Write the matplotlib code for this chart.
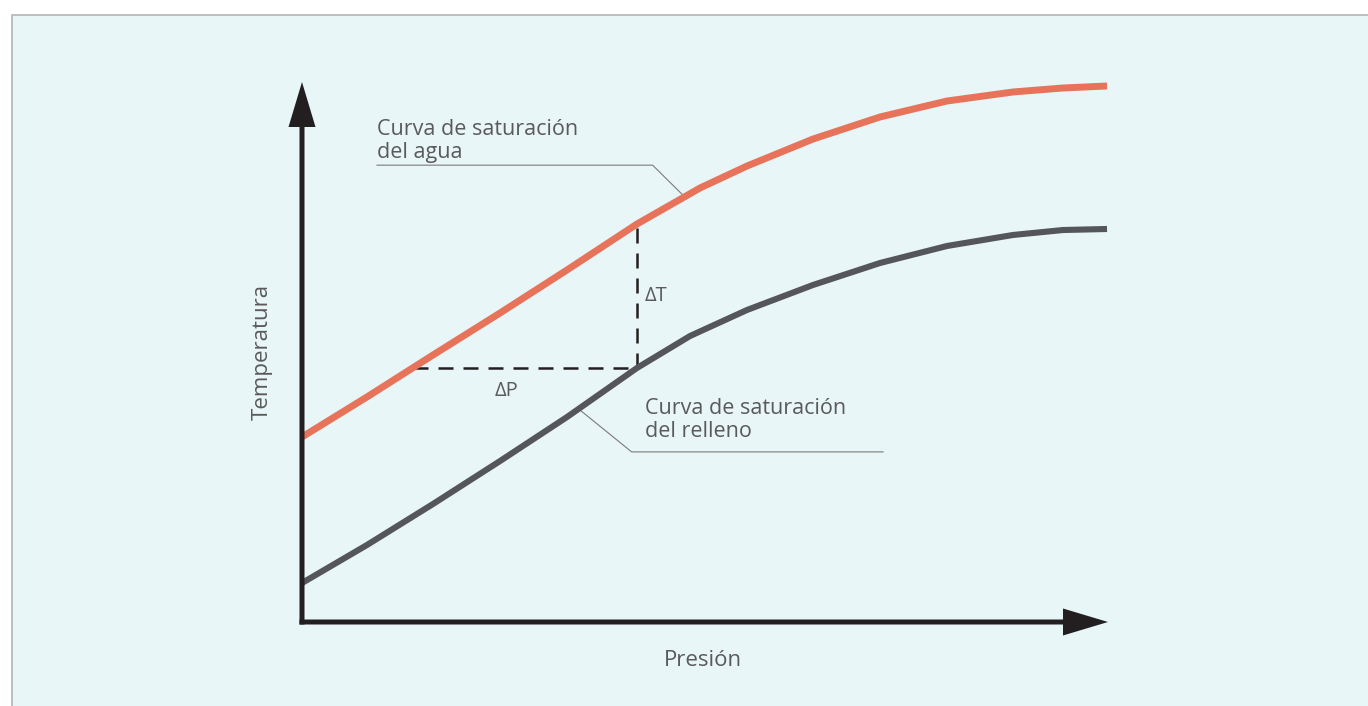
import numpy as np
import matplotlib.pyplot as plt
from matplotlib.patches import Rectangle

# Curvas (P y T en unidades relativas 0-100).
p_agua = [0, 8.06, 16.25, 24.57, 32.88, 41.56, 49.38, 55.21, 63.40, 71.71, 80.02, 88.21, 94.42, 99.88]
t_agua = [34.26, 41.67, 49.44, 57.22, 65.19, 73.70, 80.37, 84.44, 89.44, 93.52, 96.48, 98.15, 98.89, 99.26]

p_relleno = [0, 8.06, 16.25, 24.57, 32.88, 41.56, 48.14, 55.21, 63.40, 71.71, 80.02, 88.21, 94.42, 99.88]
t_relleno = [7.22, 14.26, 21.85, 29.81, 37.96, 47.04, 52.96, 57.78, 62.41, 66.48, 69.63, 71.67, 72.59, 72.78]

# Punto donde se marcan dT y dP.
p_delta = 41.56

label_agua = "Curva de saturación\ndel agua"
label_relleno = "Curva de saturación\ndel relleno"

# Líneas guía de las etiquetas.
guia_agua_p = [9.3, 43.5, 47.5]
guia_agua_t = [84.6, 84.6, 78.7]
guia_relleno_p = [34.2, 40.9, 72.1]
guia_relleno_t = [39.6, 31.5, 31.5]

W, H = 1368, 706
# escala de pixeles: origen en (302, 622), P=100 en x=1108, T=100 en y=82
x0, y0 = 302, 622
sx, sy = (1108 - x0) / 100.0, (y0 - 82) / 100.0

fig = plt.figure(figsize=(W / 100, H / 100), dpi=100)
fig.patch.set_facecolor('white')

ax = fig.add_axes([0, 0, 1, 1])
ax.set_xlim(-x0 / sx, (W - x0) / sx)
ax.set_ylim((y0 - H) / sy, y0 / sy)
ax.axis('off')

# fondo con borde
ax.add_patch(Rectangle((12 / W, -0.05), 1.1, (H - 15) / H + 0.05,
                       transform=ax.transAxes, facecolor='#e9f6f7',
                       edgecolor='#b4b4b4', linewidth=1.2, zorder=0,
                       clip_on=False))

axis_col = '#231f20'
txt_col = '#5a5a5a'
font = 'Open Sans'

# Ejes con flechas
ax.arrow(0, -2.5 / sy, 0, 100 + 2.5 / sy, width=5 / sx, head_width=27 / sx,
         head_length=45 / sy, length_includes_head=True, color=axis_col, lw=0,
         zorder=3)
ax.arrow(-2.5 / sx, 0, 100 + 2.5 / sx, 0, width=5 / sy, head_width=27 / sy,
         head_length=45 / sx, length_includes_head=True, color=axis_col, lw=0,
         zorder=3)

# Curvas
ax.plot(p_agua, t_agua, color='#e8735b', lw=5.0, solid_capstyle='butt',
        solid_joinstyle='round', zorder=2)
ax.plot(p_relleno, t_relleno, color='#54565b', lw=4.4, solid_capstyle='butt',
        solid_joinstyle='round', zorder=2)

# dT y dP
t_top = np.interp(p_delta, p_agua, t_agua)
t_bot = np.interp(p_delta, p_relleno, t_relleno)
p_left = np.interp(t_bot, t_agua, p_agua)
ax.plot([p_delta, p_delta], [t_bot, t_top], color=axis_col, lw=1.8,
        linestyle=(0, (6, 4)), zorder=1)
ax.plot([p_left, p_delta], [t_bot, t_bot], color=axis_col, lw=1.8,
        linestyle=(0, (6, 4)), zorder=1)
ax.text(p_delta + 1.0, (t_top + t_bot) / 2, "ΔT", fontsize=14.5, color=txt_col,
        family=font, ha='left', va='center')
ax.text(p_left + 0.42 * (p_delta - p_left), t_bot - 23 / sy, "ΔP", fontsize=14.5,
        color=txt_col, family=font, ha='center', va='center')

# Etiquetas de las curvas
ax.plot(guia_agua_p, guia_agua_t, color='#7a7a7a', lw=0.8, zorder=1)
ax.plot(guia_relleno_p, guia_relleno_t, color='#7a7a7a', lw=0.8, zorder=1)
ax.text(guia_agua_p[0], 93.2, label_agua, fontsize=15.5, color=txt_col,
        family=font, ha='left', va='top', linespacing=1.12)
ax.text(42.6, 41.5, label_relleno, fontsize=15.5, color=txt_col,
        family=font, ha='left', va='top', linespacing=1.12)

# Títulos de los ejes
ax.text(-40 / sx, 50, "Temperatura", fontsize=16, color=txt_col, family=font,
        rotation=90, ha='center', va='center')
ax.text(49.8, -38 / sy, "Presión", fontsize=16, color=txt_col, family=font,
        ha='center', va='center')

fig.savefig('out.png', dpi=100)
